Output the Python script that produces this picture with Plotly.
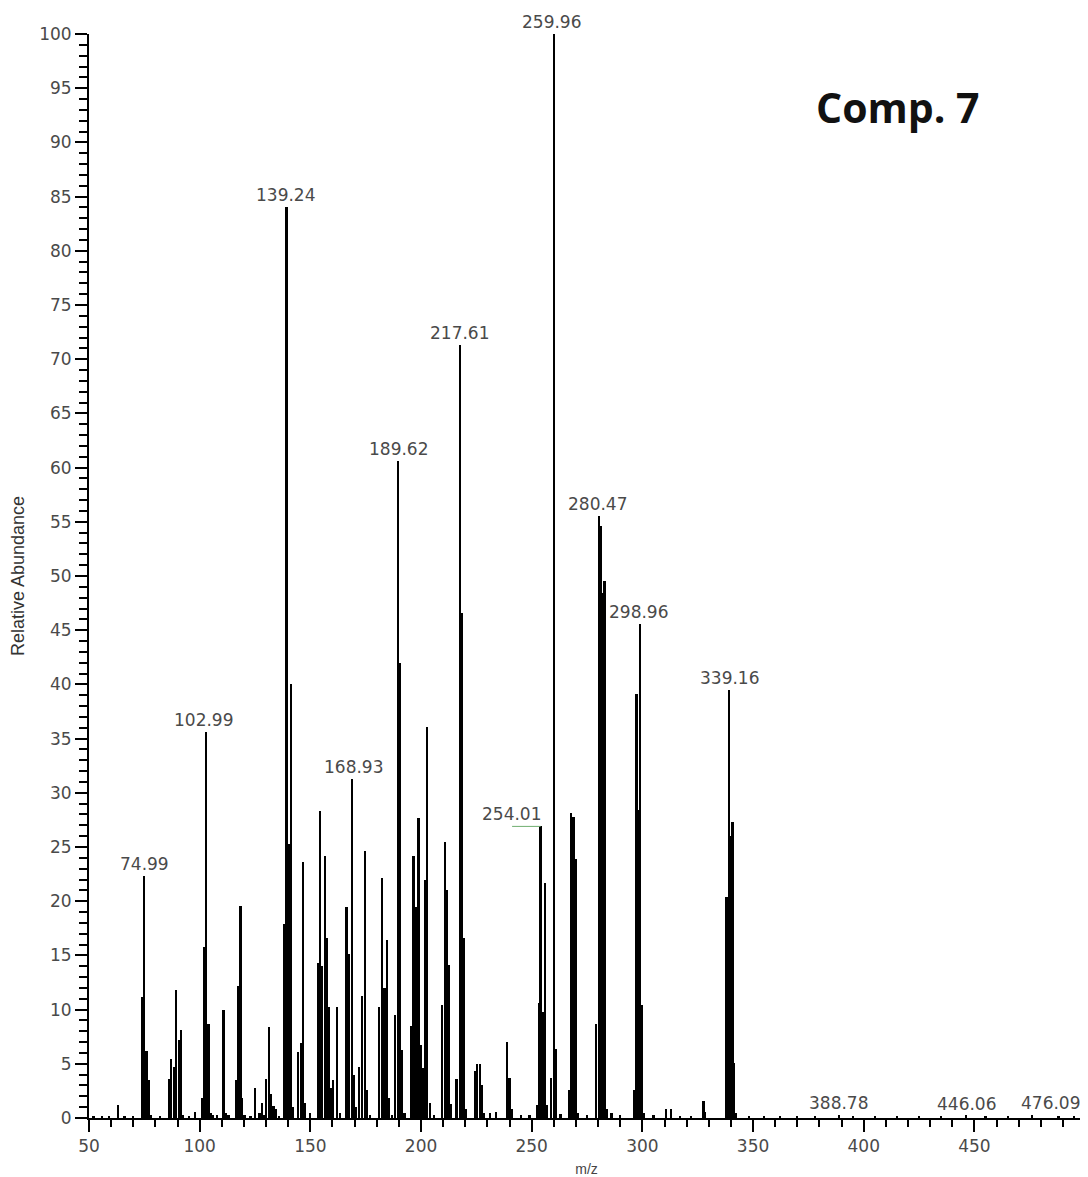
import plotly.graph_objects as go

# m/z positions and relative abundances
mz = [
    52, 56, 59, 63, 66, 70,
    74.0, 74.99, 76.0, 77.0, 78.0, 82,
    86.2, 87.2, 88.3, 89.4, 90.5, 91.6, 92.5, 95, 98,
    101.0, 102.0, 102.99, 104.0, 105.0, 106.0, 108,
    110.8, 112.0, 113.0,
    116.3, 117.3, 118.4, 119.2, 120.2, 123,
    125.0, 127.0, 128.0, 129.0,
    130.1, 131.3, 132.3, 133.3, 134.3, 136,
    138.0, 139.24, 140.2, 141.3, 142.3,
    144.4, 145.6, 146.5, 147.5, 150,
    153.6, 154.3, 155.4, 156.5, 157.3, 158.4, 159.5, 160.3, 162.0, 163.5,
    166.3, 167.3, 168.93, 169.8, 170.6, 172.0, 173.3, 174.8, 175.7, 177,
    181.0, 182.3, 183.5, 184.6, 185.6, 187,
    188.4, 189.62, 190.4, 191.2, 192.5,
    195.6, 196.6, 197.8, 198.9, 199.8, 200.9, 202.0, 202.8, 204.0, 206,
    209.5, 210.7, 211.7, 212.8, 213.6,
    216.0, 217.61, 218.4, 219.2, 220.2,
    224.2, 225.3, 226.5, 227.7, 228.6, 231, 234,
    238.8, 240.0, 241.0, 245, 249,
    252.4, 253.2, 254.01, 255.0, 256.0, 256.8,
    258.8, 259.96, 260.9, 263,
    267.0, 267.9, 268.9, 270.0, 271.0, 275,
    279.2, 280.47, 281.2, 282.1, 282.9, 283.8, 286, 290,
    296.4, 297.3, 298.2, 298.96, 299.9, 300.8, 305,
    310.8, 312.8, 317, 322,
    327.6, 328.4,
    337.7, 338.5, 339.16, 339.9, 340.7, 341.5, 342.4,
    348, 355, 362, 370, 378, 388.78, 395, 405, 415, 425, 435, 446.06, 455, 465, 476.09, 488, 495,
]
abundance = [
    0.2, 0.2, 0.2, 1.2, 0.2, 0.2,
    11.2, 22.3, 6.2, 3.5, 0.3, 0.2,
    3.6, 5.4, 4.7, 11.8, 7.2, 8.1, 0.3, 0.2, 0.6,
    1.8, 15.8, 35.6, 8.7, 0.5, 0.3, 0.3,
    10.0, 0.5, 0.3,
    3.5, 12.2, 19.6, 1.8, 0.3, 0.2,
    2.8, 0.5, 1.4, 0.3,
    3.6, 8.4, 2.2, 1.1, 0.8, 0.2,
    17.9, 84.0, 25.3, 40.0, 1.0,
    6.1, 6.9, 23.6, 1.4, 0.5,
    14.3, 28.3, 14.0, 24.2, 16.6, 10.2, 2.8, 3.5, 10.2, 0.5,
    19.5, 15.1, 31.3, 4.0, 1.0, 4.7, 11.3, 24.6, 2.6, 0.3,
    10.2, 22.1, 12.0, 16.4, 1.8, 0.3,
    9.5, 60.6, 42.0, 6.3, 0.5,
    8.5, 24.2, 19.5, 27.7, 6.7, 4.6, 22.0, 36.1, 1.4, 0.3,
    10.4, 25.5, 21.0, 14.1, 1.3,
    3.6, 71.3, 46.6, 16.6, 0.8,
    4.3, 5.0, 5.0, 3.0, 0.5, 0.5, 0.6,
    7.0, 3.7, 0.8, 0.3, 0.3,
    1.2, 10.6, 26.9, 9.8, 21.7, 1.2,
    3.7, 100.0, 6.4, 0.4,
    2.6, 28.1, 27.8, 23.9, 0.5, 0.3,
    8.7, 55.5, 54.6, 48.4, 49.5, 0.8, 0.5, 0.3,
    2.6, 39.1, 28.4, 45.6, 10.4, 0.5, 0.3,
    0.8, 0.8, 0.2, 0.2,
    1.6, 0.6,
    20.4, 20.4, 39.5, 26.0, 27.3, 5.1, 0.5,
    0.2, 0.2, 0.2, 0.2, 0.2, 0.3, 0.2, 0.2, 0.2, 0.2, 0.2, 0.3, 0.2, 0.2, 0.3, 0.2, 0.2,
]

# labelled peaks and horizontal label offsets (px)
label_mz = [74.99, 102.99, 139.24, 168.93, 189.62, 217.61, 254.01, 259.96,
            280.47, 298.96, 339.16, 388.78, 446.06, 476.09]
label_ab = [22.3, 35.6, 84.0, 31.3, 60.6, 71.3, 26.9, 100.0,
            55.5, 45.6, 39.5, 0.3, 0.2, 0.3]
label_dx = [0, -3, -1, 1, 0, -1, -29, -2, -2, -2, 0, 0, 1, 18]

x_tickvals = [50, 100, 150, 200, 250, 300, 350, 400, 450]
y_tickvals = list(range(0, 101, 5))

tick_font = dict(family="DejaVu Sans, Liberation Sans, sans-serif", size=17, color="#4a4a4a")

fig = go.Figure()
fig.add_trace(go.Bar(
    x=mz, y=abundance, width=1.0,
    marker=dict(color="black", line=dict(width=0)),
    hoverinfo="x+y", showlegend=False,
))

for xm, ya, dx in zip(label_mz, label_ab, label_dx):
    fig.add_annotation(
        x=xm, y=ya, text=f"{xm:.2f}", showarrow=False,
        xanchor="center", yanchor="bottom", xshift=dx, yshift=0,
        font=tick_font,
    )

# thin green leader under the 254.01 label
fig.add_annotation(
    x=254.01, y=26.9, text="", showarrow=True, arrowhead=0,
    arrowwidth=1, arrowcolor="#6fae6f", ax=-30, ay=0,
)

fig.add_annotation(
    xref="paper", yref="paper", x=0.813, y=0.933,
    xanchor="center", yanchor="middle",
    text="<b>Comp. 7</b>", showarrow=False,
    font=dict(family="Open Sans, Noto Sans, sans-serif", size=41, color="#111111"),
)

# page body has an 8 px margin, so the figure is sized to fit the window
fig.update_layout(
    width=1080, height=1169,
    margin=dict(l=81, r=4, t=26, b=59, autoexpand=False),
    paper_bgcolor="white", plot_bgcolor="white",
    bargap=0,
    xaxis=dict(
        range=[50, 499.5], tickvals=x_tickvals, ticktext=[str(v) for v in x_tickvals],
        automargin=False,
        showgrid=False, zeroline=False, showline=True, linecolor="black", linewidth=2,
        ticks="outside", ticklen=12, tickwidth=2, tickcolor="black",
        tickfont=tick_font,
        minor=dict(dtick=10, tick0=50, ticks="outside", ticklen=7, tickwidth=2, tickcolor="black", showgrid=False),
        title=dict(text="m/z", font=dict(family="Liberation Sans, Arial, sans-serif", size=14, color="#444444")),
    ),
    yaxis=dict(
        range=[0, 100], tickvals=y_tickvals, ticktext=[str(v) for v in y_tickvals],
        automargin=False,
        showgrid=False, zeroline=False, showline=True, linecolor="black", linewidth=2,
        ticks="outside", ticklen=12, tickwidth=2, tickcolor="black",
        tickfont=tick_font,
        minor=dict(dtick=1, tick0=0, ticks="outside", ticklen=8, tickwidth=2, tickcolor="black", showgrid=False),
        title=dict(text="Relative Abundance", font=dict(family="Liberation Sans Narrow, Liberation Sans, Arial, sans-serif", size=18, color="#333333")),
    ),
)

fig.write_html("out.html")
